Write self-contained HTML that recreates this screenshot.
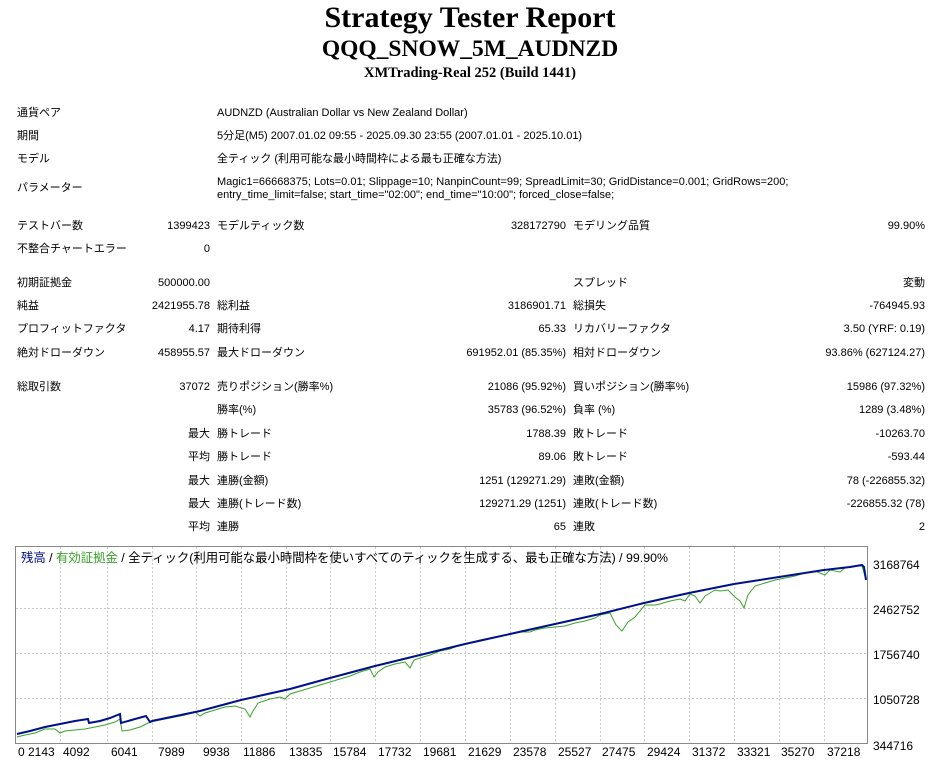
<!DOCTYPE html>
<html><head><meta charset="utf-8"><style>
body{margin:0;background:#fff;width:940px;height:761px;position:relative;overflow:hidden;font-family:"Liberation Sans","Noto Sans CJK JP",sans-serif;font-size:11px;color:#000}
.a{position:absolute;white-space:nowrap;line-height:13px}
.r{position:absolute;white-space:nowrap;line-height:13px;text-align:right}
.t{position:absolute;left:0;width:940px;text-align:center;font-family:"Liberation Serif","Noto Serif CJK SC",serif;font-weight:bold}
</style></head><body>
<div class="t" style="top:1px;font-size:30px;line-height:34px">Strategy Tester Report</div>
<div class="t" style="top:36px;font-size:23.5px;line-height:27px">QQQ_SNOW_5M_AUDNZD</div>
<div class="t" style="top:65px;font-size:14.5px;line-height:16px">XMTrading-Real 252 (Build 1441)</div>

<div class="a" style="left:17px;top:107px">通貨ペア</div>
<div class="a" style="left:217px;top:107px">AUDNZD (Australian Dollar vs New Zealand Dollar)</div>
<div class="a" style="left:17px;top:130px">期間</div>
<div class="a" style="left:217px;top:130px">5分足(M5) 2007.01.02 09:55 - 2025.09.30 23:55 (2007.01.01 - 2025.10.01)</div>
<div class="a" style="left:17px;top:153px">モデル</div>
<div class="a" style="left:217px;top:153px">全ティック (利用可能な最小時間枠による最も正確な方法)</div>
<div class="a" style="left:17px;top:182px">パラメーター</div>
<div class="a" style="left:217px;top:176px">Magic1=66668375; Lots=0.01; Slippage=10; NanpinCount=99; SpreadLimit=30; GridDistance=0.001; GridRows=200;<br>entry_time_limit=false; start_time="02:00"; end_time="10:00"; forced_close=false;</div>

<div class="a" style="left:17px;top:220px">テストバー数</div>
<div class="r" style="right:730px;top:220px">1399423</div>
<div class="a" style="left:217px;top:220px">モデルティック数</div>
<div class="r" style="right:374px;top:220px">328172790</div>
<div class="a" style="left:573px;top:220px">モデリング品質</div>
<div class="r" style="right:15px;top:220px">99.90%</div>
<div class="a" style="left:17px;top:243px">不整合チャートエラー</div>
<div class="r" style="right:730px;top:243px">0</div>

<div class="a" style="left:17px;top:277px">初期証拠金</div>
<div class="r" style="right:730px;top:277px">500000.00</div>
<div class="a" style="left:573px;top:277px">スプレッド</div>
<div class="r" style="right:15px;top:277px">変動</div>

<div class="a" style="left:17px;top:300px">純益</div>
<div class="r" style="right:730px;top:300px">2421955.78</div>
<div class="a" style="left:217px;top:300px">総利益</div>
<div class="r" style="right:374px;top:300px">3186901.71</div>
<div class="a" style="left:573px;top:300px">総損失</div>
<div class="r" style="right:15px;top:300px">-764945.93</div>

<div class="a" style="left:17px;top:323px">プロフィットファクタ</div>
<div class="r" style="right:730px;top:323px">4.17</div>
<div class="a" style="left:217px;top:323px">期待利得</div>
<div class="r" style="right:374px;top:323px">65.33</div>
<div class="a" style="left:573px;top:323px">リカバリーファクタ</div>
<div class="r" style="right:15px;top:323px">3.50 (YRF: 0.19)</div>

<div class="a" style="left:17px;top:347px">絶対ドローダウン</div>
<div class="r" style="right:730px;top:347px">458955.57</div>
<div class="a" style="left:217px;top:347px">最大ドローダウン</div>
<div class="r" style="right:374px;top:347px">691952.01 (85.35%)</div>
<div class="a" style="left:573px;top:347px">相対ドローダウン</div>
<div class="r" style="right:15px;top:347px">93.86% (627124.27)</div>

<div class="a" style="left:17px;top:381px">総取引数</div>
<div class="r" style="right:730px;top:381px">37072</div>
<div class="a" style="left:217px;top:381px">売りポジション(勝率%)</div>
<div class="r" style="right:374px;top:381px">21086 (95.92%)</div>
<div class="a" style="left:573px;top:381px">買いポジション(勝率%)</div>
<div class="r" style="right:15px;top:381px">15986 (97.32%)</div>

<div class="a" style="left:217px;top:404px">勝率(%)</div>
<div class="r" style="right:374px;top:404px">35783 (96.52%)</div>
<div class="a" style="left:573px;top:404px">負率 (%)</div>
<div class="r" style="right:15px;top:404px">1289 (3.48%)</div>

<div class="r" style="right:730px;top:428px">最大</div>
<div class="a" style="left:217px;top:428px">勝トレード</div>
<div class="r" style="right:374px;top:428px">1788.39</div>
<div class="a" style="left:573px;top:428px">敗トレード</div>
<div class="r" style="right:15px;top:428px">-10263.70</div>

<div class="r" style="right:730px;top:451px">平均</div>
<div class="a" style="left:217px;top:451px">勝トレード</div>
<div class="r" style="right:374px;top:451px">89.06</div>
<div class="a" style="left:573px;top:451px">敗トレード</div>
<div class="r" style="right:15px;top:451px">-593.44</div>

<div class="r" style="right:730px;top:475px">最大</div>
<div class="a" style="left:217px;top:475px">連勝(金額)</div>
<div class="r" style="right:374px;top:475px">1251 (129271.29)</div>
<div class="a" style="left:573px;top:475px">連敗(金額)</div>
<div class="r" style="right:15px;top:475px">78 (-226855.32)</div>

<div class="r" style="right:730px;top:498px">最大</div>
<div class="a" style="left:217px;top:498px">連勝(トレード数)</div>
<div class="r" style="right:374px;top:498px">129271.29 (1251)</div>
<div class="a" style="left:573px;top:498px">連敗(トレード数)</div>
<div class="r" style="right:15px;top:498px">-226855.32 (78)</div>

<div class="r" style="right:730px;top:521px">平均</div>
<div class="a" style="left:217px;top:521px">連勝</div>
<div class="r" style="right:374px;top:521px">65</div>
<div class="a" style="left:573px;top:521px">連敗</div>
<div class="r" style="right:15px;top:521px">2</div>

<svg style="position:absolute;left:0;top:0" width="940" height="761">
<g stroke="#c8c8c8" stroke-dasharray="2,2" stroke-width="1">
<line x1="16" y1="608.5" x2="868" y2="608.5"/><line x1="16" y1="653.5" x2="868" y2="653.5"/><line x1="16" y1="698.5" x2="868" y2="698.5"/>
<line x1="60.5" y1="547" x2="60.5" y2="744"/><line x1="107.5" y1="547" x2="107.5" y2="744"/><line x1="152.5" y1="547" x2="152.5" y2="744"/><line x1="196.5" y1="547" x2="196.5" y2="744"/><line x1="241.5" y1="547" x2="241.5" y2="744"/><line x1="286.5" y1="547" x2="286.5" y2="744"/><line x1="330.5" y1="547" x2="330.5" y2="744"/><line x1="375.5" y1="547" x2="375.5" y2="744"/><line x1="420.5" y1="547" x2="420.5" y2="744"/><line x1="465.5" y1="547" x2="465.5" y2="744"/><line x1="510.5" y1="547" x2="510.5" y2="744"/><line x1="555.5" y1="547" x2="555.5" y2="744"/><line x1="600.5" y1="547" x2="600.5" y2="744"/><line x1="644.5" y1="547" x2="644.5" y2="744"/><line x1="689.5" y1="547" x2="689.5" y2="744"/><line x1="734.5" y1="547" x2="734.5" y2="744"/><line x1="779.5" y1="547" x2="779.5" y2="744"/><line x1="824.5" y1="547" x2="824.5" y2="744"/>
</g>
<rect x="15.5" y="546.5" width="852" height="197" fill="none" stroke="#888"/>
<polyline fill="none" stroke="#3aa32a" stroke-width="1" points="17,737 25,735 35,733 45,729 55,729 60,733 65,731 75,730 85,729 95,727 105,725 115,722 120,719 122,731 130,730 140,727 148,723 155,721 165,719 175,717 185,715 195,712 200,716 205,713 215,710 225,707 235,706 245,709 250,717 253,711 258,703 270,699 280,697 285,699 290,694 300,691 310,688 320,685 330,682 340,679 350,676 360,672 370,669 374,677 378,672 385,667 395,664 405,662 410,668 414,660 420,658 430,655 440,651 450,649 460,645 470,643 480,640 490,638 500,636 510,634 520,632 530,632 535,630 545,628 555,627 565,626 575,623 585,621 595,618 600,615 610,613 616,625 622,631 628,622 635,617 645,605 655,605 660,604 670,601 680,599 685,601 690,594 695,596 700,603 705,596 715,590 720,591 728,590 735,597 740,601 744,608 748,595 755,586 765,583 775,580 785,578 795,576 805,573 815,571 825,575 830,570 840,572 845,568 855,566 862,566 866,580"/>
<polyline fill="none" stroke="#00108a" stroke-width="2" points="17,734 30,731 45,727 60,724 75,721 88,719 89,723 100,721 110,718 120,714 121,723 135,719 146,716 150,722 152,721 200,711 241,700 290,689 330,678 375,666 420,655 465,644 510,634 555,624 600,614 644,603 689,593 734,584 779,577 824,570 850,567 862,565 864,567 866,580"/>
<g font-family="Liberation Sans, Noto Sans CJK JP, sans-serif" font-size="12" fill="#000">
<text x="873" y="569">3168764</text><text x="873" y="614">2462752</text><text x="873" y="659">1756740</text><text x="873" y="704">1050728</text><text x="873" y="750">344716</text>
<text x="18" y="756">0</text><text x="28" y="756">2143</text><text x="63" y="756">4092</text><text x="111" y="756">6041</text><text x="158" y="756">7989</text><text x="203" y="756">9938</text><text x="243" y="756">11886</text><text x="289" y="756">13835</text><text x="333" y="756">15784</text><text x="378" y="756">17732</text><text x="423" y="756">19681</text><text x="468" y="756">21629</text><text x="513" y="756">23578</text><text x="558" y="756">25527</text><text x="602" y="756">27475</text><text x="647" y="756">29424</text><text x="692" y="756">31372</text><text x="737" y="756">33321</text><text x="781" y="756">35270</text><text x="827" y="756">37218</text>
<text x="21" y="562" font-size="12.4" textLength="647" lengthAdjust="spacingAndGlyphs"><tspan fill="#00108a">残高</tspan> / <tspan fill="#3aa32a">有効証拠金</tspan> / 全ティック(利用可能な最小時間枠を使いすべてのティックを生成する、最も正確な方法) / 99.90%</text>
</g>
</svg>
</body></html>
